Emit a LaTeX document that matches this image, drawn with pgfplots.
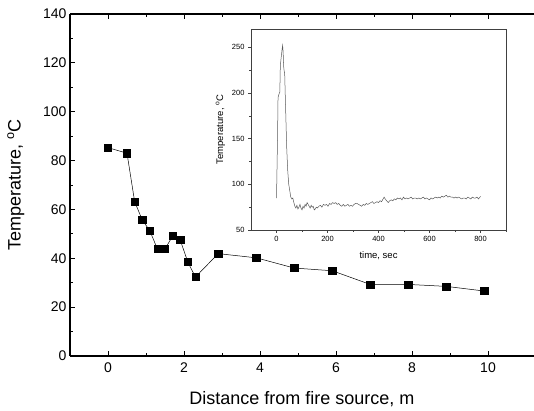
\documentclass[border=0pt]{standalone}
\usepackage{pgfplots}
\pgfplotsset{compat=1.18}
\usepackage{fontspec}
\setmainfont{Liberation Sans}
\begin{document}
\begin{tikzpicture}
\useasboundingbox (0pt,0pt) rectangle (534pt,411pt);
\begin{axis}[
  at={(70pt,55pt)}, anchor=south west,
  scale only axis, width=463.6pt, height=342pt,
  xmin=-1, xmax=11.2, ymin=0, ymax=140,
  separate axis lines,
  axis x line*=box, axis y line*=left,
  axis line style={line width=1.1pt, -},
  xtick={0,2,...,10}, ytick={0,20,...,120,140},
  minor xtick={1,3,5,7,9}, minor ytick={10,30,...,130},
  tick align=inside,
  major tick length=5pt, minor tick length=3pt,
  every tick/.style={black, line width=0.9pt},
  tick label style={font=\fontsize{14}{15}\selectfont},
  xticklabel style={yshift=-3pt},
  /pgf/number format/assume math mode=true,
  xlabel={Distance from fire source, m},
  ylabel={Temperature, \textsuperscript{o}C},
  label style={font=\fontsize{18}{20}\selectfont},
  xlabel style={yshift=-12pt},
  ylabel style={yshift=12pt},
  clip=false,
]
\addplot[black, line width=0.5pt, mark=square*, mark size=3.6pt, mark options={solid, fill=black}] coordinates {
(0,85.3) (0.5,83.0) (0.7,63.3) (0.9,55.7) (1.1,51.3) (1.3,43.8) (1.5,43.8)
(1.7,49.1) (1.9,47.5) (2.1,38.5) (2.3,32.3) (2.9,41.9) (3.9,40.2) (4.9,36.0)
(5.9,34.9) (6.9,29.3) (7.9,29.3) (8.9,28.5) (9.9,26.6)
};
\end{axis}
\begin{axis}[
  at={(251pt,181pt)}, anchor=south west,
  scale only axis, width=255pt, height=201pt,
  xmin=-100, xmax=900, ymin=50, ymax=270,
  axis line style={line width=0.6pt, black!75},
  xtick={0,200,...,800}, ytick={50,100,...,250},
  minor xtick={100,300,...,900}, minor ytick={75,125,...,225},
  xtick pos=bottom, ytick pos=left,
  tick align=outside,
  major tick length=3pt, minor tick length=2pt,
  every tick/.style={black!75, line width=0.5pt},
  tick label style={font=\fontsize{7.5}{8}\selectfont},
  /pgf/number format/assume math mode=true,
  xlabel={time, sec},
  ylabel={Temperature, \textsuperscript{o}C},
  label style={font=\fontsize{9.5}{10}\selectfont},
  xlabel style={yshift=-3pt},
  ylabel style={yshift=0pt},
]
\addplot[black!65, line width=0.5pt] coordinates {
(0,85) (4,150) (6,195) (10,199) (13,201) (15,230) (18,238) (22,248) (24,252)
(26,245) (28,229) (30,224) (32,222) (36,180) (40,140) (44,115) (48,100) (52,93)
(56,86) (60,84) (64,85) (68,80) (72,76) (76,74) (80,77) (84,73) (88,75) (92,78)
(96,74) (100,72) (104,76) (108,74) (112,78) (116,76) (120,80) (124,78) (128,76)
(132,74) (136,77) (140,75) (144,76) (148,72) (152,73) (156,75) (160,74) (166,76)
(172,77) (178,75) (184,78) (190,77) (196,78) (202,76) (208,79) (214,78) (220,80)
(226,79) (232,80) (238,78) (244,79) (250,77) (256,76) (262,78) (268,76) (274,77)
(280,78) (286,76) (292,77) (298,76) (304,78) (310,79) (316,79) (322,78) (328,77)
(334,76) (340,78) (346,77) (352,79) (358,78) (364,79) (370,80) (376,81) (382,79)
(388,80) (394,81) (400,80) (406,82) (412,81) (418,84) (422,86) (426,84) (432,82)
(438,80) (444,82) (450,83) (456,82) (462,84) (468,83) (474,85) (480,84) (486,85)
(492,83) (498,86) (504,84) (510,85) (516,84) (522,85) (528,86) (534,84) (540,85)
(546,85) (552,84) (558,85) (564,84) (570,85) (576,86) (582,84) (588,85) (594,84)
(600,83) (606,85) (612,84) (618,85) (624,86) (630,85) (636,86) (642,85) (648,87)
(654,86) (660,87) (666,88) (672,86) (678,87) (684,86) (690,86) (696,85) (702,86)
(708,85) (714,86) (720,85) (726,84) (732,85) (738,85) (744,84) (750,86) (756,85)
(762,84) (768,86) (774,85) (780,85) (786,86) (792,84) (798,86) (800,87)
};
\end{axis}
\end{tikzpicture}
\end{document}
